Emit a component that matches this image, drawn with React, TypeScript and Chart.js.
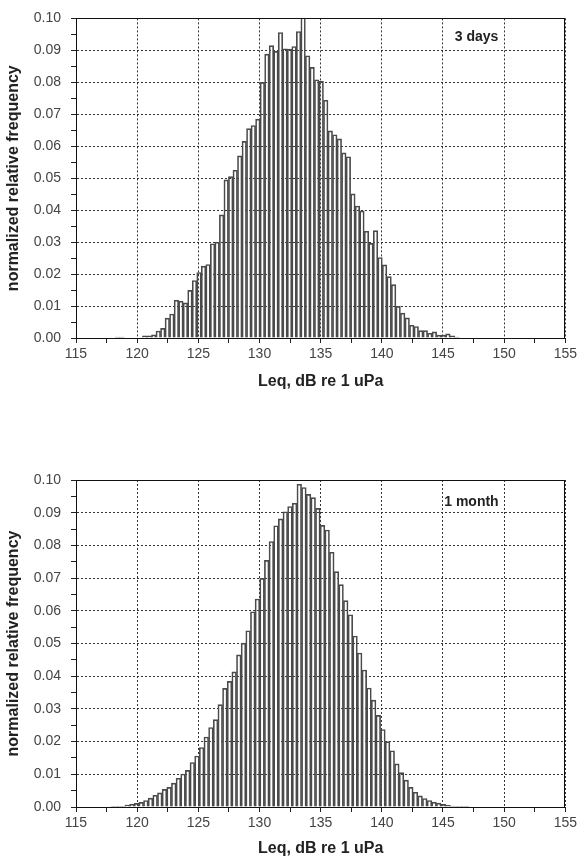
import React, { useEffect, useRef } from 'react';
import { Chart, registerables } from 'chart.js';

Chart.register(...registerables);

// ---- axes ----
const X_MIN = 115;
const X_MAX = 155;
const X_TICK_STEP = 2.5;
const X_LABEL_STEP = 5;
const Y_MIN = 0;
const Y_MAX = 0.1;
const Y_TICK_STEP = 0.005;
const Y_LABEL_STEP = 0.01;
const xAxisTitle = 'Leq, dB re 1 uPa';
const yAxisTitle = 'normalized relative frequency';

// ---- top panel: 3 days ----
const topTag = '3 days';
const topBinStart = 118.21; // dB, left edge of first bin
const topBinWidth = 0.37; // dB
const topFreq = [
  0.0003, 0.0003, 0, 0, 0, 0,
  0.0007, 0.0007, 0.001, 0.0022, 0.003, 0.0062, 0.0075, 0.0118, 0.0115, 0.011, 0.0149, 0.018, 0.0205,
  0.0225, 0.023, 0.0295, 0.03, 0.0385, 0.0495, 0.0505, 0.0525, 0.057, 0.0615, 0.0655, 0.0665, 0.0685,
  0.08, 0.0888, 0.0915, 0.0897, 0.0956, 0.0905, 0.0904, 0.0912, 0.0959, 0.105, 0.0883, 0.0847, 0.0808, 0.0803,
  0.0744, 0.0648, 0.0636, 0.0623, 0.0579, 0.0567,
  0.0451, 0.0413, 0.0398, 0.0334, 0.0296, 0.0336, 0.0252, 0.0229, 0.0192, 0.0167,
  0.0099, 0.0078, 0.0063, 0.004, 0.0036, 0.0023, 0.0023, 0.0015, 0.0019, 0.0009,
  0.0009, 0.0013, 0.0007, 0.0003,
];

// ---- bottom panel: 1 month ----
const bottomTag = '1 month';
const bottomBinStart = 117.86;
const bottomBinWidth = 0.38;
const bottomFreq = [
  0.0002, 0.0002, 0.0002,
  0.0006, 0.0009, 0.0011, 0.0014, 0.002, 0.0027, 0.0036, 0.0043, 0.0054, 0.006, 0.0073, 0.0088, 0.0101, 0.0112, 0.0136, 0.0156,
  0.0182, 0.0214, 0.0243, 0.0267, 0.0313, 0.0363, 0.0384, 0.0413, 0.0465, 0.0501, 0.0539, 0.0597, 0.0636,
  0.0699, 0.0754, 0.0812, 0.086, 0.0881, 0.0903, 0.0919, 0.0929, 0.0987, 0.0977,
  0.0956, 0.0946, 0.0913, 0.0861, 0.0847, 0.0779, 0.072, 0.068, 0.0631, 0.0588,
  0.0523, 0.0471, 0.0419, 0.0364, 0.0327, 0.028, 0.0237, 0.02, 0.0172, 0.0132,
  0.0105, 0.0082, 0.006, 0.0045, 0.0034, 0.0026, 0.002, 0.0015, 0.0012, 0.0008,
  0.0005, 0.0003, 0.0002, 0.0002, 0.0002,
];

const FONT = '"Liberation Sans", Arial, Helvetica, sans-serif';

const frameAndTag = {
  id: 'frameAndTag',
  afterDatasetsDraw(chart: any, _args: any, opts: any) {
    const { ctx, chartArea: a, scales } = chart;
    ctx.save();
    ctx.strokeStyle = '#111';
    ctx.lineWidth = 1;
    ctx.setLineDash([]);
    ctx.strokeRect(Math.round(a.left) + 0.5, Math.round(a.top) + 0.5, Math.round(a.right - a.left) - 1, Math.round(a.bottom - a.top));
    if (opts && opts.text) {
      ctx.font = `bold 14px ${FONT}`;
      ctx.fillStyle = '#222';
      ctx.textAlign = 'left';
      ctx.textBaseline = 'middle';
      ctx.fillText(opts.text, scales.x.getPixelForValue(opts.x), scales.y.getPixelForValue(opts.y));
    }
    ctx.restore();
  },
};

type PanelProps = {
  freq: number[];
  binStart: number;
  binWidth: number;
  tag: string;
  tagX: number;
  tagY: number;
  padTop: number;
  xAxisHeight: number;
  titlePadBottom: number;
};

function Panel(p: PanelProps) {
  const ref = useRef<HTMLCanvasElement | null>(null);
  useEffect(() => {
    if (!ref.current) return;
    const points = p.freq.map((v, i) => ({ x: p.binStart + p.binWidth * (i + 0.5), y: v }));
    const isMajorX = (v: number) => Math.abs(v / X_LABEL_STEP - Math.round(v / X_LABEL_STEP)) < 1e-6;
    const isMajorY = (v: number) => Math.abs(v / Y_LABEL_STEP - Math.round(v / Y_LABEL_STEP)) < 1e-6;
    const chart = new Chart(ref.current, {
      type: 'bar',
      data: {
        datasets: [
          {
            data: points as any,
            backgroundColor: 'rgba(255,255,255,0)',
            borderColor: '#4a4a4a',
            borderWidth: 1,
            barPercentage: 1,
            categoryPercentage: 1,
          },
        ],
      },
      plugins: [frameAndTag],
      options: {
        responsive: false,
        animation: false,
        layout: { padding: { left: 0, right: 13, top: p.padTop, bottom: 0 } },
        plugins: {
          legend: { display: false },
          tooltip: { enabled: false },
          frameAndTag: { text: p.tag, x: p.tagX, y: p.tagY },
        } as any,
        scales: {
          x: {
            type: 'linear',
            min: X_MIN,
            max: X_MAX,
            offset: false,
            afterFit: (s: any) => {
              s.height = p.xAxisHeight;
            },
            ticks: {
              stepSize: X_TICK_STEP,
              autoSkip: false,
              maxRotation: 0,
              padding: 3,
              color: '#444',
              font: { family: FONT, size: 14 },
              callback: (v: any) => (isMajorX(Number(v)) ? String(Math.round(Number(v))) : ''),
            },
            grid: {
              offset: false,
              color: (c: any) => (c.tick && isMajorX(c.tick.value) ? '#333' : 'rgba(0,0,0,0)'),
              tickColor: '#222',
              tickLength: 5,
              lineWidth: 1,
            },
            border: { display: true, color: '#111', dash: [2, 2] },
            title: {
              display: true,
              text: xAxisTitle,
              color: '#222',
              font: { family: FONT, size: 16, weight: 'bold' },
              padding: { top: 0, bottom: p.titlePadBottom },
            },
          },
          y: {
            type: 'linear',
            min: Y_MIN,
            max: Y_MAX,
            afterFit: (s: any) => {
              s.width = 76;
            },
            ticks: {
              stepSize: Y_TICK_STEP,
              autoSkip: false,
              padding: 10,
              color: '#444',
              font: { family: FONT, size: 14 },
              callback: (v: any) => (isMajorY(Number(v)) ? Number(v).toFixed(2) : ''),
            },
            grid: {
              color: (c: any) => (c.tick && isMajorY(c.tick.value) ? '#333' : 'rgba(0,0,0,0)'),
              tickColor: '#222',
              tickLength: 5,
              lineWidth: 1,
            },
            border: { display: true, color: '#111', dash: [2, 2] },
            title: {
              display: true,
              text: yAxisTitle,
              color: '#222',
              font: { family: FONT, size: 16, weight: 'bold' },
              padding: { top: 4, bottom: 0 },
            },
          },
        },
      } as any,
    });
    return () => chart.destroy();
  }, []);
  return <canvas ref={ref} width={580} height={432} style={{ display: 'block', width: 580, height: 432 }} />;
}

export default function App() {
  return (
    <div style={{ position: 'absolute', left: 0, top: 0, width: 580, height: 864, background: '#fff' }}>
      <Panel
        freq={topFreq}
        binStart={topBinStart}
        binWidth={topBinWidth}
        tag={topTag}
        tagX={145.96}
        tagY={0.0942}
        padTop={12}
        xAxisHeight={94}
        titlePadBottom={41}
      />
      <Panel
        freq={bottomFreq}
        binStart={bottomBinStart}
        binWidth={bottomBinWidth}
        tag={bottomTag}
        tagX={145.1}
        tagY={0.0931}
        padTop={48}
        xAxisHeight={57}
        titlePadBottom={6}
      />
    </div>
  );
}
